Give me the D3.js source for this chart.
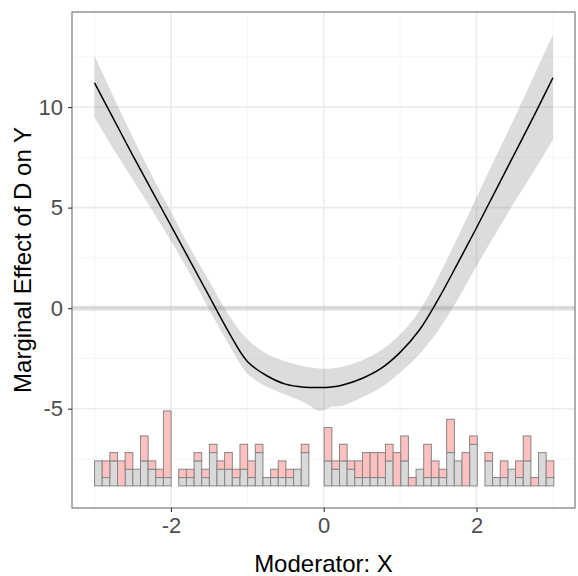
<!DOCTYPE html>
<html>
<head>
<meta charset="utf-8">
<style>
  body { margin: 0; background: #fff; font-family: "Liberation Sans", Arial, sans-serif; }
</style>
</head>
<body>
<script src="https://cdn.jsdelivr.net/npm/d3@7"></script>
<script>

// marginal effect estimate and its confidence band
var xs    = [-3, -2.75, -2.5, -2.25, -2, -1.75, -1.5, -1.25, -1, -0.75, -0.5, -0.25, -0.05, 0.1, 0.25, 0.5, 0.75, 1, 1.25, 1.5, 1.75, 2, 2.25, 2.5, 2.75, 3];
var est   = [11.2, 9.4, 7.6, 5.85, 4.1, 2.35, 0.6, -1.15, -2.65, -3.35, -3.78, -3.93, -3.95, -3.92, -3.82, -3.5, -3.0, -2.2, -1.1, 0.45, 2.2, 4.0, 5.85, 7.7, 9.55, 11.46];
var upper = [12.55, 10.5, 8.5, 6.6, 4.8, 3.0, 1.35, -0.3, -1.55, -2.25, -2.65, -2.9, -3.0, -3.0, -2.9, -2.6, -2.1, -1.3, -0.15, 1.55, 3.5, 5.5, 7.5, 9.5, 11.55, 13.6];
var lower = [9.5, 7.9, 6.4, 4.9, 3.35, 1.7, -0.05, -1.75, -3.25, -3.9, -4.3, -4.7, -5.1, -4.9, -4.85, -4.45, -3.95, -3.2, -2.3, -1.1, 0.4, 2.1, 3.7, 5.3, 6.8, 8.36];

// histogram of the moderator: 60 bins from -3 to 3
var binStart = -3, binWidth = 0.1002;
var control = [3,1,3,0,2,2,3,2,1,1, 0,1,1,3,1,4,2,2,1,2, 1,4,1,1,1,1,2,4,0,0, 3,2,3,2,1,1,1,1,3,0, 3,0,2,1,1,1,4,3,0,5, 0,3,1,1,2,1,3,0,4,1];
var treated = [0,2,1,3,2,0,3,1,1,8, 0,1,1,1,1,1,1,2,1,3, 2,1,0,1,2,1,0,1,0,0, 4,1,2,1,2,3,3,3,2,4, 3,1,0,4,2,1,4,0,4,1, 0,1,0,2,0,2,3,1,0,2];

var xTicks = [-2, 0, 2];
var yTicks = [-5, 0, 5, 10];
var xMinor = [-3, -1, 1, 3];
var yMinor = [-7.5, -2.5, 2.5, 7.5, 12.5];

var W = 578, H = 576;
var margin = {top: 12, right: 3, bottom: 68, left: 72};

var svg = d3.select('body').append('svg')
	.attr('width', W)
	.attr('height', H);

var x = d3.scaleLinear()
	.domain([-3.295, 3.289])
	.range([margin.left, W - margin.right]);

var y = d3.scaleLinear()
	.domain([-9.94, 14.73])
	.range([H - margin.bottom, margin.top]);

var [x0, x1] = x.range();
var [y0, y1] = y.range();

// histogram sits at the bottom of the panel, one count = 0.414 on y
var histBase = -8.84, histUnit = 0.414;

// grid ///////////////////////////////////////////////////////////////
var grid = svg.append('g');
grid.selectAll('.vminor').data(xMinor).join('line')
	.attr('x1', d => x(d)).attr('x2', d => x(d))
	.attr('y1', y0).attr('y2', y1)
	.attr('stroke', '#f2f2f2').attr('stroke-width', 0.8);
grid.selectAll('.hminor').data(yMinor).join('line')
	.attr('y1', d => y(d)).attr('y2', d => y(d))
	.attr('x1', x0).attr('x2', x1)
	.attr('stroke', '#f2f2f2').attr('stroke-width', 0.8);
grid.selectAll('.vmajor').data(xTicks).join('line')
	.attr('x1', d => x(d)).attr('x2', d => x(d))
	.attr('y1', y0).attr('y2', y1)
	.attr('stroke', '#ebebeb').attr('stroke-width', 1.6);
grid.selectAll('.hmajor').data(yTicks).join('line')
	.attr('y1', d => y(d)).attr('y2', d => y(d))
	.attr('x1', x0).attr('x2', x1)
	.attr('stroke', '#ebebeb').attr('stroke-width', 1.6);

// zero line
svg.append('line')
	.attr('x1', x0).attr('x2', x1)
	.attr('y1', y(0)).attr('y2', y(0))
	.attr('stroke', '#aaaaaa').attr('stroke-opacity', 0.34)
	.attr('stroke-width', 5);

// confidence band and estimate ///////////////////////////////////////
var pts = xs.map((d, i) => ({x: d, est: est[i], lo: lower[i], hi: upper[i]}));

svg.append('path')
	.datum(pts)
	.attr('fill', '#808080').attr('fill-opacity', 0.28)
	.attr('d', d3.area()
		.curve(d3.curveCatmullRom)
		.x(d => x(d.x))
		.y0(d => y(d.lo))
		.y1(d => y(d.hi)));

svg.append('path')
	.datum(pts)
	.attr('fill', 'none')
	.attr('stroke', '#000')
	.attr('stroke-width', 1.5)
	.attr('d', d3.line()
		.curve(d3.curveCatmullRom)
		.x(d => x(d.x))
		.y(d => y(d.est)));

// histogram //////////////////////////////////////////////////////////
var bins = control.map((c, i) => ({
	xmin: binStart + i * binWidth,
	xmax: binStart + (i + 1) * binWidth,
	c0: c,
	c1: treated[i],
}));

var hist = svg.append('g');
hist.selectAll('.ctrl').data(bins.filter(d => d.c0 > 0)).join('rect')
	.attr('x', d => x(d.xmin))
	.attr('width', d => x(d.xmax) - x(d.xmin))
	.attr('y', d => y(histBase + d.c0 * histUnit))
	.attr('height', d => y(histBase) - y(histBase + d.c0 * histUnit))
	.attr('fill', '#d9d9d9')
	.attr('stroke', '#858585').attr('stroke-width', 1);
hist.selectAll('.treat').data(bins.filter(d => d.c1 > 0)).join('rect')
	.attr('x', d => x(d.xmin))
	.attr('width', d => x(d.xmax) - x(d.xmin))
	.attr('y', d => y(histBase + (d.c0 + d.c1) * histUnit))
	.attr('height', d => y(histBase + d.c0 * histUnit) - y(histBase + (d.c0 + d.c1) * histUnit))
	.attr('fill', '#ffc0c0')
	.attr('stroke', '#858585').attr('stroke-width', 1);

// panel border
svg.append('rect')
	.attr('x', x0).attr('y', y1)
	.attr('width', x1 - x0).attr('height', y0 - y1)
	.attr('fill', 'none')
	.attr('stroke', '#7a7a7a').attr('stroke-width', 1.2);

// axes ///////////////////////////////////////////////////////////////
var fmt = d => String(d);

svg.append('g')
	.attr('transform', `translate(0,${y0})`)
	.call(d3.axisBottom(x).tickValues(xTicks).tickFormat(fmt).tickSize(4).tickPadding(5))
	.call(g => g.select('.domain').remove())
	.call(g => g.selectAll('.tick line').attr('stroke', '#333').attr('stroke-width', 1.1))
	.call(g => g.selectAll('.tick text')
		.attr('fill', '#4d4d4d')
		.attr('font-size', 22)
		.attr('font-family', '"Liberation Sans", Arial, sans-serif'));

svg.append('g')
	.attr('transform', `translate(${x0},0)`)
	.call(d3.axisLeft(y).tickValues(yTicks).tickFormat(fmt).tickSize(4).tickPadding(5))
	.call(g => g.select('.domain').remove())
	.call(g => g.selectAll('.tick line').attr('stroke', '#333').attr('stroke-width', 1.1))
	.call(g => g.selectAll('.tick text')
		.attr('fill', '#4d4d4d')
		.attr('font-size', 22)
		.attr('font-family', '"Liberation Sans", Arial, sans-serif'));

svg.append('text')
	.attr('x', (x0 + x1) / 2)
	.attr('y', 572)
	.attr('text-anchor', 'middle')
	.attr('font-size', 24)
	.attr('fill', '#000')
	.text('Moderator: X');

svg.append('text')
	.attr('transform', `translate(31,${(y0 + y1) / 2}) rotate(-90)`)
	.attr('text-anchor', 'middle')
	.attr('font-size', 24)
	.attr('fill', '#000')
	.text('Marginal Effect of D on Y');

</script>
</body>
</html>
